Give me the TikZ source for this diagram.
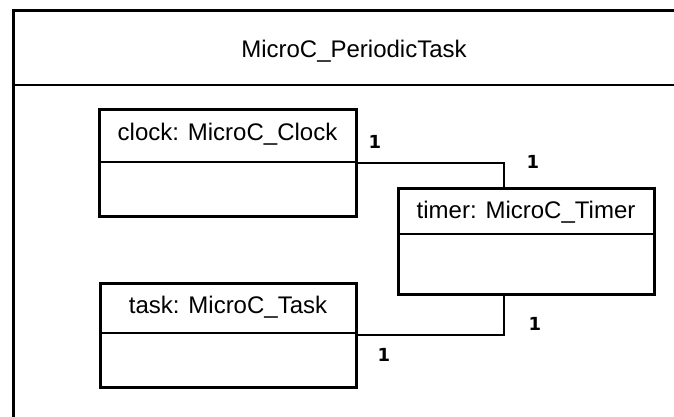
\documentclass[tikz,border=0pt]{standalone}
\usepackage{fontspec}
\setmainfont{Liberation Sans}
\newfontfamily\numfont{DejaVu Sans}
\begin{document}
\begin{tikzpicture}[x=1pt,y=-1pt,
  objbox/.style={draw=black,line width=3pt,rectangle,outer sep=0pt,inner sep=0pt},
  sep/.style={line width=1.5pt},
  conn/.style={line width=1.2pt},
  lbl/.style={font=\fontsize{24}{28}\selectfont,anchor=base,inner sep=0pt},
  mult/.style={font=\numfont\bfseries\fontsize{18}{21}\selectfont,inner sep=0pt}]
\useasboundingbox (0,0) rectangle (674,416);
\clip (0,0) rectangle (674,416);
% outer frame
\coordinate (fbl) at (13.5,440);
\coordinate (ftl) at (13.5,10.5);
\coordinate (ftr) at (720,10.5);
\draw[line width=3pt] (fbl) -- (ftl) -- (ftr);
\coordinate (hl) at (13.5,85);
\coordinate (hr) at (720,85);
\draw[line width=2pt] (hl) -- (hr);
\node[lbl] (title) at (354,57) {MicroC\_PeriodicTask};
% boxes
\node[objbox,minimum width=257pt,minimum height=107pt] (clock) at (227.5,162.5) {};
\node[objbox,minimum width=256pt,minimum height=106pt] (timer) at (526,241) {};
\node[objbox,minimum width=256pt,minimum height=104pt] (task) at (228,335) {};
\draw[sep] (clock.west |- 0,162) -- (clock.east |- 0,162);
\draw[sep] (timer.west |- 0,234) -- (timer.east |- 0,234);
\draw[sep] (task.west |- 0,333) -- (task.east |- 0,333);
\node[lbl] (clocktxt) at (227.5,140) {clock: MicroC\_Clock};
\node[lbl] (timertxt) at (526,218) {timer: MicroC\_Timer};
\node[lbl] (tasktxt) at (228,313) {task: MicroC\_Task};
% connectors
\draw[conn] (clock.east |- 0,163) -| (timer.north -| 504,0);
\draw[conn] (task.east |- 0,335) -| (timer.south -| 504,0);
% multiplicities
\node[mult] (m1) at (375,142) {1};
\node[mult] (m2) at (533,162) {1};
\node[mult] (m3) at (535,324) {1};
\node[mult] (m4) at (384,355) {1};
\end{tikzpicture}
\end{document}
